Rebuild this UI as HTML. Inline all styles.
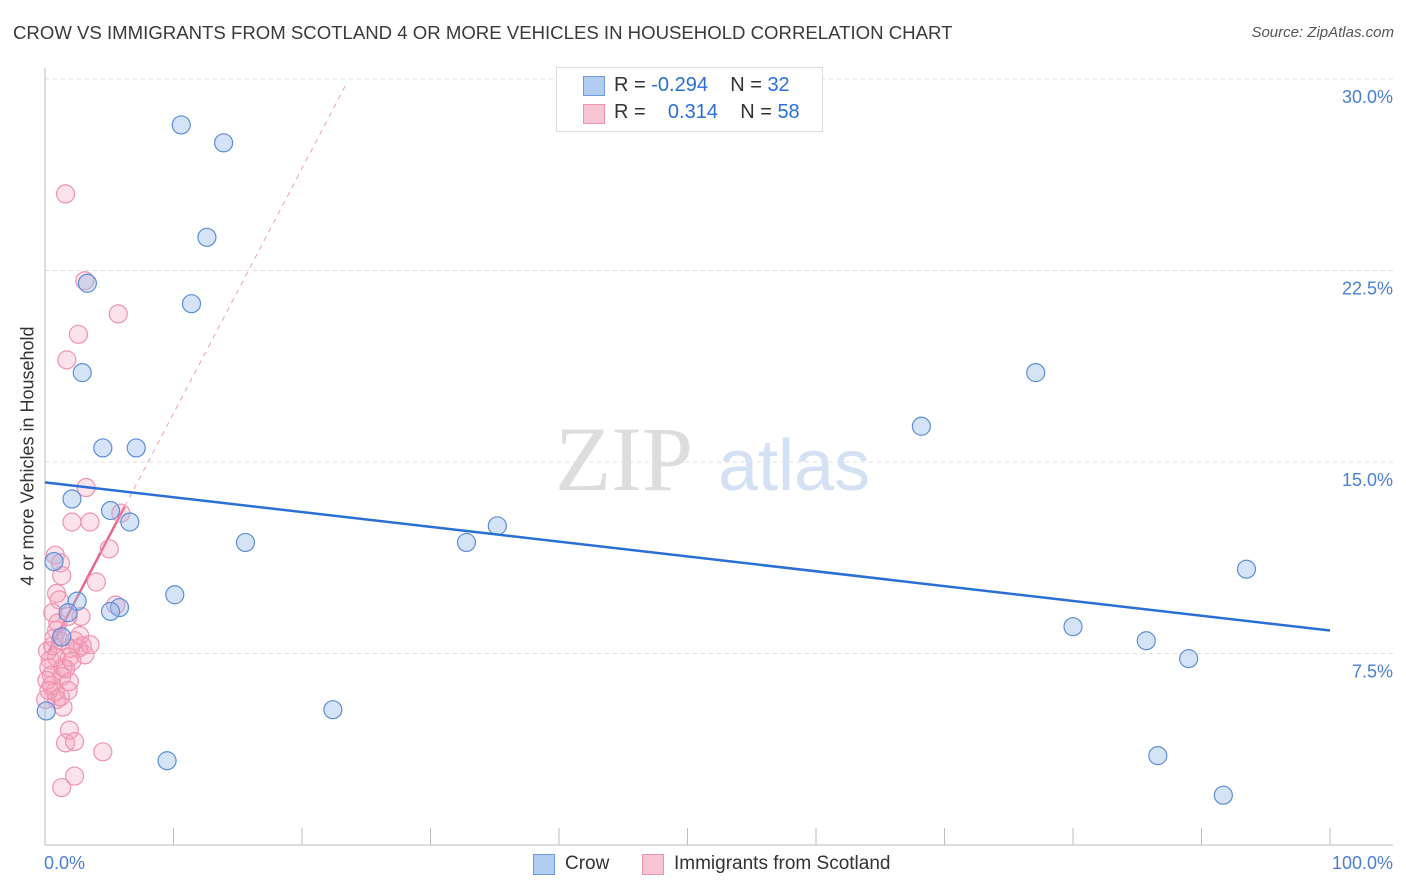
<!DOCTYPE html>
<html><head><meta charset="utf-8">
<style>
body{margin:0;background:#fff;font-family:"Liberation Sans",sans-serif;}
#wrap{position:relative;width:1406px;height:892px;overflow:hidden;}
.t{position:absolute;white-space:nowrap;}
</style></head>
<body>
<div id="wrap">
<div class="t" style="left:13px;top:22px;font-size:18.6px;color:#3a3a3a;">CROW VS IMMIGRANTS FROM SCOTLAND 4 OR MORE VEHICLES IN HOUSEHOLD CORRELATION CHART</div>
<div class="t" style="right:12px;top:24px;font-size:15px;color:#555;font-style:italic;">Source: ZipAtlas.com</div>
<svg id="svg" width="1406" height="892" style="position:absolute;left:0;top:0"></svg>
</div>
<script>
const yTicks=[7.5,15,22.5,30];
const yTickLabels=["7.5%","15.0%","22.5%","30.0%"];
const crowX=[10.6,13.9,12.6,11.4,3.3,2.9,4.5,7.1,2.1,5.1,6.6,0.7,2.5,1.8,5.8,5.1,1.3,0.1,10.1,15.6,22.4,9.5,32.8,35.2,68.2,77.1,80.0,85.7,89.0,93.5,86.6,91.7];
const crowY=[28.2,27.5,23.8,21.2,22.0,18.5,15.55,15.55,13.55,13.1,12.65,11.1,9.55,9.1,9.3,9.15,8.15,5.25,9.8,11.85,5.3,3.3,11.85,12.5,16.4,18.5,8.55,8.0,7.3,10.8,3.5,1.95];
const scotX=[1.6,3.1,5.7,2.6,1.7,3.2,5.9,2.1,3.5,5.0,0.8,1.2,1.3,4.0,0.9,0.6,2.8,1.8,5.5,0.9,1.2,2.3,2.6,2.9,3.1,1.9,0.9,0.4,0.3,0.5,1.3,1.4,0.5,1.9,1.8,0.8,1.4,1.9,1.6,2.3,4.5,2.3,1.3,0.2,0.6,2.0,1.1,0.15,0.9,0.05,0.3,1.6,2.7,1.0,0.7,2.1,1.2,3.5];
const scotY=[25.5,22.1,20.8,20.0,19.0,14.0,13.0,12.65,12.65,11.6,11.35,11.05,10.55,10.3,9.85,9.1,8.95,8.95,9.4,8.4,8.0,8.0,7.7,7.8,7.45,7.35,7.35,7.25,6.95,6.65,6.6,6.95,6.25,6.4,6.05,6.0,5.4,4.5,4.0,4.05,3.65,2.7,2.25,7.6,7.8,7.7,9.6,6.45,5.7,5.7,6.05,6.9,8.2,8.7,8.1,7.2,5.8,7.85];
const crowTrend=[14.2,8.4];   // y at x=0, x=100
const scotTrend=[7.3,0.96];   // intercept, slope
const X0=45,X1=1330,Y0=845,YS=191.5/7.5;
const sx=v=>X0+(X1-X0)*v/100, sy=v=>Y0-v*YS;
const svg=document.getElementById('svg');const NS='http://www.w3.org/2000/svg';
function mk(tag,at){const e=document.createElementNS(NS,tag);for(const k in at)e.setAttribute(k,at[k]);svg.appendChild(e);return e;}
yTicks.forEach((v,i)=>{
 const g=mk('line',{x1:X0,x2:1393,y1:sy(v),y2:sy(v),stroke:'#ddd','stroke-dasharray':'4,4'});
 
 
 const t=mk('text',{x:1393,y:sy(v)+24,'text-anchor':'end','font-size':18,fill:'#4a7fd4','font-family':'Liberation Sans'});
 t.textContent=yTickLabels[i];
 
 
});
mk('line',{x1:X0,x2:X0,y1:68,y2:Y0,stroke:'#bbb'});
mk('line',{x1:X0,x2:1393,y1:Y0,y2:Y0,stroke:'#bbb'});
for(let i=0;i<=10;i++){mk('line',{x1:sx(i*10),x2:sx(i*10),y1:828,y2:Y0,stroke:'#bbb'});}
let wm=mk('text',{x:555,y:490,'font-size':92,fill:'#ddd','font-family':'Liberation Serif'});wm.textContent='ZIP';


let wm2=mk('text',{x:718,y:490,'font-size':72,fill:'#d4e0f3','font-family':'Liberation Sans'});wm2.textContent='atlas';


const l1=mk('line',{x1:sx(0.2),y1:sy(scotTrend[0]+scotTrend[1]*0.2),x2:sx(6.2),y2:sy(scotTrend[0]+scotTrend[1]*6.2),stroke:'#e8668f','stroke-width':2.5});


const l2=mk('line',{x1:sx(6.2),y1:sy(scotTrend[0]+scotTrend[1]*6.2),x2:sx(23.5),y2:sy(scotTrend[0]+scotTrend[1]*23.5),stroke:'#e8a0b8','stroke-width':1,'stroke-dasharray':'5,5'});


scotX.forEach((x,i)=>{const c=mk('circle',{cx:sx(x),cy:sy(scotY[i]),r:9,fill:'rgba(244,160,185,0.3)',stroke:'#ee94b0','stroke-width':1.2});
 
 });
crowX.forEach((x,i)=>{const c=mk('circle',{cx:sx(x),cy:sy(crowY[i]),r:9,fill:'rgba(150,185,235,0.4)',stroke:'#5b8ed8','stroke-width':1.2});
 
 });
const l3=mk('line',{x1:sx(0),y1:sy(crowTrend[0]),x2:sx(100),y2:sy(crowTrend[1]),stroke:'#2a6fd6','stroke-width':2.5});


</script>
<div class="t" style="left:44px;top:853px;font-size:18px;color:#4a7fd4;">0.0%</div>
<div class="t" style="right:13px;top:853px;font-size:18px;color:#4a7fd4;">100.0%</div>
<div class="t" style="left:28px;top:456px;font-size:18px;color:#333;transform:translate(-50%,-50%) rotate(-90deg);">4 or more Vehicles in Household</div>
<div style="position:absolute;left:556px;top:67px;width:265px;height:63px;border:1px solid #ddd;background:#fff;font-size:20px;color:#333;">
 <div style="position:absolute;left:26px;top:8px;width:20px;height:18px;background:#b3cdf2;border:1px solid #6c9be0;"></div>
 <div class="t" style="left:57px;top:6px;">R = <span style="color:#2a6fd6">-0.294</span>&nbsp;&nbsp;&nbsp;&nbsp;N = <span style="color:#2a6fd6">32</span></div>
 <div style="position:absolute;left:26px;top:36px;width:20px;height:18px;background:#f9c4d3;border:1px solid #ee94b0;"></div>
 <div class="t" style="left:57px;top:33px;">R = &nbsp;&nbsp;&nbsp;<span style="color:#2a6fd6">0.314</span>&nbsp;&nbsp;&nbsp;&nbsp;N = <span style="color:#2a6fd6">58</span></div>
</div>
<div style="position:absolute;left:533px;top:853px;">
 <div style="position:absolute;left:0;top:1px;width:20px;height:19px;background:#b3cdf2;border:1px solid #6c9be0;"></div>
 <div class="t" style="left:32px;top:0;font-size:19px;color:#333;">Crow</div>
</div>
<div style="position:absolute;left:642px;top:853px;">
 <div style="position:absolute;left:0;top:1px;width:20px;height:19px;background:#f9c4d3;border:1px solid #ee94b0;"></div>
 <div class="t" style="left:32px;top:0;font-size:19px;color:#333;">Immigrants from Scotland</div>
</div>
</body></html>
